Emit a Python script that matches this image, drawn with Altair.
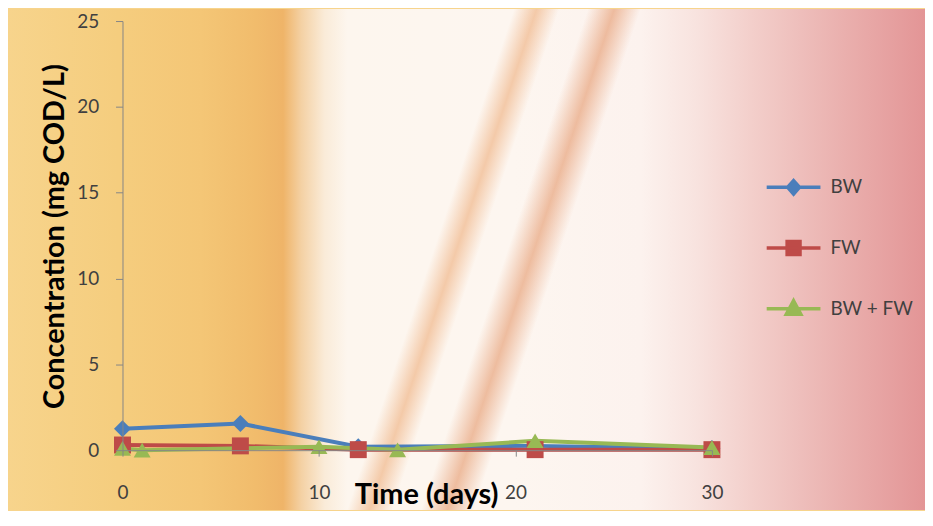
import altair as alt
import pandas as pd

# ---- data ----
series_names = ["BW", "FW", "BW + FW"]
bw_days = [0, 6, 12, 21, 30]
bw_vals = [1.25, 1.55, 0.2, 0.25, 0.1]
fw_days = [0, 6, 12, 21, 30]
fw_vals = [0.3, 0.25, 0.03, 0.03, 0.03]
mix_days = [0, 1, 10, 14, 21, 30]
mix_vals = [0.1, 0.0, 0.2, 0.02, 0.55, 0.15]
series_colors = ["#4A7EBB", "#BE4B48", "#98B954"]
series_shapes = ["diamond", "square", "triangle-up"]
x_ticks = [0, 10, 20, 30]
y_ticks = [0, 5, 10, 15, 20, 25]

rows = []
for name, days, vals in zip(series_names, [bw_days, fw_days, mix_days], [bw_vals, fw_vals, mix_vals]):
    for d, v in zip(days, vals):
        rows.append({"series": name, "day": d, "value": v})
df = pd.DataFrame(rows)

FONT = "Lato"
W, H = 592, 431
PAD = {"left": 115, "top": 12, "right": 214, "bottom": 60}

x_enc = alt.X("day:Q",
              scale=alt.Scale(domain=[0, 30], nice=False),
              axis=alt.Axis(values=x_ticks, title="Time (days)", grid=False, zindex=1,
                            labelFlush=False,
                            domainColor="#868686", tickColor="#868686", tickSize=6,
                            labelPadding=28, labelFontSize=19, labelColor="#404040",
                            labelFont=FONT, titleFont=FONT, titleFontSize=29,
                            titleFontWeight="bold", titleColor="#000000",
                            titleX=305, titleY=45, titleBaseline="middle"))
y_enc = alt.Y("value:Q",
              scale=alt.Scale(domain=[0, 25], nice=False),
              axis=alt.Axis(values=y_ticks, title="Concentration (mg COD/L)", grid=False,
                            zindex=1, labelFlush=False,
                            domainColor="#868686", tickColor="#868686", tickSize=7,
                            labelPadding=17, labelFontSize=19, labelColor="#404040",
                            labelFont=FONT, titleFont=FONT, titleFontSize=29,
                            titleFontWeight="bold", titleColor="#000000",
                            titleX=-68, titleY=216, titleAngle=270,
                            titleBaseline="middle", titleAlign="center"))

color_scale = alt.Scale(domain=series_names, range=series_colors)
shape_scale = alt.Scale(domain=series_names, range=series_shapes)

# legend symbols: a line with the series marker in the middle
legend_shapes = [
    "M-1,0H1M0,-0.25L0.22,0L0,0.25L-0.22,0Z",
    "M-1,0H1M-0.24,-0.24H0.24V0.24H-0.24Z",
    "M-1,0H1M0,-0.3L0.27,0.2H-0.27Z",
]
legend_shape_scale = alt.Scale(domain=series_names, range=legend_shapes)

legend = alt.Legend(
    title=None, orient="none", legendX=645, legendY=138, padding=0,
    symbolSize=2916, rowPadding=18, labelOffset=8, symbolStrokeWidth=3.5,
    symbolOpacity=1,
    labelFont=FONT, labelFontSize=19, labelColor="#404040",
)

# base background (horizontal colour sweep)
bg_stops = [
    (0.00, "#F7D48C"), (0.12, "#F5CD7E"), (0.21, "#F4C676"), (0.27, "#F1BC6C"),
    (0.30, "#EFB468"), (0.32, "#F4D1A4"), (0.345, "#FAEBD8"), (0.37, "#FDF6EE"),
    (0.55, "#FDF6F0"), (0.69, "#FCF2EE"), (0.75, "#F8E3DF"), (0.81, "#F3CFCB"),
    (0.91, "#EAB0AE"), (1.00, "#E39596"),
]
background = alt.Chart(pd.DataFrame({"k": [0]})).mark_rect(
    color={"gradient": "linear", "x1": 0, "y1": 0, "x2": 1, "y2": 0,
           "stops": [{"offset": o, "color": c} for o, c in bg_stops]}
).encode(x=alt.value(-PAD["left"]), x2=alt.value(W + PAD["right"]),
         y=alt.value(-PAD["top"]), y2=alt.value(H + PAD["bottom"]))

# two soft diagonal streaks of the background picture
streak_stops = [
    (0.00, "rgba(236,165,110,0)"), (0.534, "rgba(236,165,110,0)"),
    (0.558, "rgba(236,165,110,0.55)"), (0.582, "rgba(236,165,110,0)"),
    (0.612, "rgba(228,150,105,0)"), (0.640, "rgba(228,150,105,0.6)"),
    (0.668, "rgba(228,150,105,0)"), (1.00, "rgba(228,150,105,0)"),
]
streaks = alt.Chart(pd.DataFrame({"k": [0]})).mark_rect(
    color={"gradient": "linear", "x1": 0, "y1": 0, "x2": 1, "y2": 0.182,
           "stops": [{"offset": o, "color": c} for o, c in streak_stops]}
).encode(x=alt.value(-PAD["left"]), x2=alt.value(W + PAD["right"]),
         y=alt.value(-PAD["top"]), y2=alt.value(H + PAD["bottom"]))

lines = alt.Chart(df).mark_line(strokeWidth=4).encode(
    x=x_enc, y=y_enc,
    color=alt.Color("series:N", scale=color_scale, legend=None),
    detail="series:N",
)

points = alt.Chart(df).mark_point(filled=True, size=290, opacity=1).encode(
    x="day:Q", y="value:Q",
    color=alt.Color("series:N", scale=color_scale, legend=None),
    shape=alt.Shape("series:N", scale=shape_scale, legend=None),
)

# legend-only layer (draws no marks, only provides the legend)
legend_layer = alt.Chart(df).transform_filter("false").mark_point(
    size=2916, opacity=1, strokeWidth=3.5
).encode(
    x="day:Q", y="value:Q",
    fill=alt.Fill("series:N", scale=alt.Scale(domain=series_names, range=series_colors), legend=legend),
    stroke=alt.Stroke("series:N", scale=alt.Scale(domain=series_names, range=series_colors), legend=legend),
    shape=alt.Shape("series:N", scale=legend_shape_scale, legend=legend),
)

chart = alt.layer(background, streaks, lines, points, legend_layer).resolve_scale(
    shape="independent", fill="independent", stroke="independent"
).properties(
    width=W, height=H,
    padding=PAD,
    autosize=alt.AutoSizeParams(type="none"),
    title=alt.TitleParams("Valeric Acid", font=FONT, fontSize=32, fontWeight="bold",
                          color="#000000", anchor="middle", baseline="alphabetic",
                          offset=6, dx=52),
).configure_view(stroke=None).configure(background="#F7D48C")

chart.save("out.html", embed_options={"renderer": "svg", "actions": False})
